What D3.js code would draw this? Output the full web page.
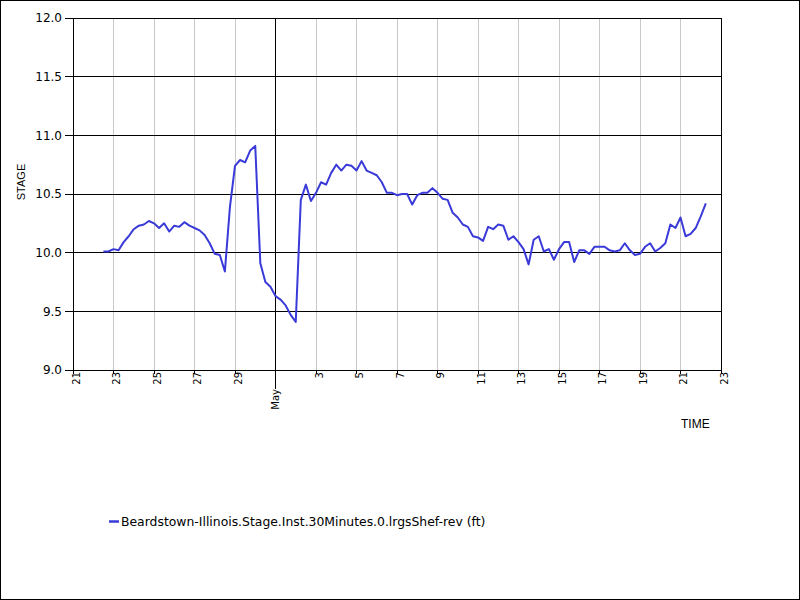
<!DOCTYPE html>
<html>
<head>
<meta charset="utf-8">
<script src="https://cdn.jsdelivr.net/npm/d3@7/dist/d3.min.js"></script>
<style>
  html, body { margin: 0; padding: 0; background: #fff; }
  svg { display: block; }
</style>
</head>
<body>
<svg id="chart" width="800" height="600"></svg>
<script>
// ---- data ----
const seriesName = "Beardstown-Illinois.Stage.Inst.30Minutes.0.lrgsShef-rev (ft)";
const startTime = "2023-04-22T12:00:00Z";
const stepHours = 6;
const stageValues = [
  10.01,10.01,10.03,10.02,10.09,10.14,10.20,10.23,10.24,10.27,
  10.25,10.21,10.25,10.18,10.23,10.22,10.26,10.23,10.21,10.19,
  10.15,10.08,9.99,9.98,9.84,10.39,10.74,10.79,10.77,10.87,
  10.91,9.91,9.75,9.71,9.63,9.60,9.55,9.47,9.41,10.45,
  10.58,10.44,10.51,10.60,10.58,10.68,10.75,10.70,10.75,10.74,
  10.70,10.78,10.70,10.68,10.66,10.60,10.51,10.51,10.49,10.50,
  10.50,10.41,10.49,10.51,10.51,10.55,10.51,10.46,10.45,10.34,
  10.30,10.24,10.22,10.14,10.13,10.10,10.22,10.20,10.24,10.23,
  10.11,10.14,10.09,10.03,9.90,10.11,10.14,10.01,10.03,9.94,
  10.03,10.09,10.09,9.92,10.02,10.02,9.99,10.05,10.05,10.05,
  10.02,10.01,10.02,10.08,10.02,9.98,9.99,10.05,10.08,10.01,
  10.04,10.08,10.24,10.21,10.30,10.14,10.16,10.21,10.31,10.42
];
const xDomain = ["2023-04-21", "2023-05-23"];
const xTickDates = ["2023-04-21","2023-04-23","2023-04-25","2023-04-27","2023-04-29",
  "2023-05-01","2023-05-03","2023-05-05","2023-05-07","2023-05-09","2023-05-11",
  "2023-05-13","2023-05-15","2023-05-17","2023-05-19","2023-05-21","2023-05-23"];
const majorTickDates = ["2023-05-01"];
const majorTickLabels = ["May"];
const yDomain = [9.0, 12.0];
const yTicks = [9.0, 9.5, 10.0, 10.5, 11.0, 11.5, 12.0];
const xTitle = "TIME";
const yTitle = "STAGE";

// ---- layout ----
const svg = d3.select("#chart");
const pLeft = 73, pRight = 721, pTop = 18, pBottom = 370;
const lineColor = "#3a3ad9";
const px = v => Math.round(v - 0.5) + 0.5;

const t0 = new Date(startTime).getTime();
const data = stageValues.map((v, i) => ({ t: new Date(t0 + i * stepHours * 3600e3), v }));

const x = d3.scaleUtc().domain(xDomain.map(d => new Date(d + "T00:00:00Z"))).range([pLeft, pRight]);
const y = d3.scaleLinear().domain(yDomain).range([pBottom, pTop]);

// outer border
svg.append("rect").attr("x", 0.5).attr("y", 0.5).attr("width", 799).attr("height", 599)
  .attr("fill", "#fff").attr("stroke", "#000").attr("stroke-width", 1);

const ticks = xTickDates.map(d => new Date(d + "T00:00:00Z"));
const majors = majorTickDates.map(d => new Date(d + "T00:00:00Z").getTime());

const g = svg.append("g");
// vertical gridlines
g.selectAll("line.vg").data(ticks.filter(d => !majors.includes(d.getTime()) && d > ticks[0] && d < ticks[ticks.length-1]))
  .join("line").attr("class", "vg")
  .attr("x1", d => px(x(d))).attr("x2", d => px(x(d)))
  .attr("y1", pTop).attr("y2", pBottom)
  .attr("stroke", "#c8c8c8").attr("stroke-width", 1);

// horizontal gridlines
g.selectAll("line.hg").data(yTicks)
  .join("line").attr("class", "hg")
  .attr("x1", pLeft).attr("x2", pRight + 1)
  .attr("y1", d => px(y(d))).attr("y2", d => px(y(d)))
  .attr("stroke", "#000").attr("stroke-width", 1);

// major vertical line (May)
g.selectAll("line.mg").data(majors)
  .join("line").attr("class", "mg")
  .attr("x1", d => px(x(new Date(d)))).attr("x2", d => px(x(new Date(d))))
  .attr("y1", pTop).attr("y2", pBottom + 19)
  .attr("stroke", "#000").attr("stroke-width", 1);

// frame left & right
g.append("line").attr("x1", px(pLeft)).attr("x2", px(pLeft)).attr("y1", pTop).attr("y2", pBottom + 1).attr("stroke", "#000");
g.append("line").attr("x1", px(pRight)).attr("x2", px(pRight)).attr("y1", pTop).attr("y2", pBottom + 1).attr("stroke", "#000");

// y axis ticks & labels
g.selectAll("line.yt").data(yTicks).join("line").attr("class", "yt")
  .attr("x1", pLeft - 8).attr("x2", pLeft)
  .attr("y1", d => px(y(d))).attr("y2", d => px(y(d)))
  .attr("stroke", "#000");
g.selectAll("text.yl").data(yTicks).join("text").attr("class", "yl")
  .attr("x", 62).attr("y", d => y(d)).attr("dy", "0.36em")
  .attr("text-anchor", "end")
  .attr("font-family", "DejaVu Sans").attr("font-size", 12).attr("fill", "#000")
  .text(d => d3.format(".1f")(d));

// x axis minor ticks & labels
const minorTicks = ticks.filter(d => !majors.includes(d.getTime()));
g.selectAll("line.xt").data(minorTicks).join("line").attr("class", "xt")
  .attr("x1", d => px(x(d))).attr("x2", d => px(x(d)))
  .attr("y1", pBottom).attr("y2", pBottom + 4)
  .attr("stroke", "#000");
g.selectAll("text.xl").data(minorTicks).join("text").attr("class", "xl")
  .attr("transform", d => `translate(${px(x(d)) - 1},372) rotate(-90)`)
  .attr("dy", "0.71em")
  .attr("text-anchor", "end")
  .attr("font-family", "DejaVu Sans").attr("font-size", 10).attr("fill", "#000")
  .text(d => d3.utcFormat("%-d")(d));
g.selectAll("text.xm").data(majors).join("text").attr("class", "xm")
  .attr("transform", d => `translate(${px(x(new Date(d))) - 4},389) rotate(-90)`)
  .attr("dy", "0.71em")
  .attr("text-anchor", "end")
  .attr("font-family", "DejaVu Sans").attr("font-size", 10).attr("fill", "#000")
  .text((d, i) => majorTickLabels[i]);

// bottom axis line
g.append("line").attr("x1", pLeft - 8).attr("x2", pRight + 1).attr("y1", px(pBottom)).attr("y2", px(pBottom)).attr("stroke", "#000");

// data line
const line = d3.line().x(d => x(d.t)).y(d => y(d.v));
svg.append("path").datum(data)
  .attr("d", line)
  .attr("fill", "none").attr("stroke", lineColor).attr("stroke-width", 2)
  .attr("stroke-linejoin", "round");

// axis titles
svg.append("text").attr("transform", "translate(25,182) rotate(-90)")
  .attr("text-anchor", "middle")
  .attr("font-family", "Liberation Sans, Arial, sans-serif").attr("font-size", 11)
  .text(yTitle);
svg.append("text").attr("x", 681).attr("y", 428)
  .attr("font-family", "Liberation Sans, Arial, sans-serif").attr("font-size", 12)
  .text(xTitle);

// legend
svg.append("line").attr("x1", 109).attr("x2", 119).attr("y1", 521.5).attr("y2", 521.5)
  .attr("stroke", lineColor).attr("stroke-width", 2.5);
svg.append("text").attr("x", 121).attr("y", 526)
  .attr("font-family", "DejaVu Sans").attr("font-size", 12.4)
  .text(seriesName);
</script>
</body>
</html>
